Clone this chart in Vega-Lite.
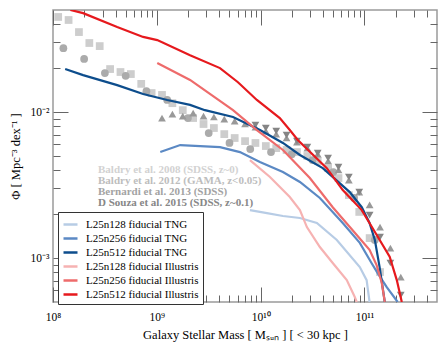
{
  "$schema": "https://vega.github.io/schema/vega-lite/v6.json",
  "width": 384,
  "height": 292,
  "autosize": {"type": "none"},
  "padding": {"left": 53, "top": 10, "right": 10, "bottom": 43},
  "config": {"view": {"stroke": "#9a9a9a", "strokeWidth": 1.5}, "font": "Liberation Serif"},
  "datasets": {
    "sims": [
      {"sim": "L25n128 fiducial TNG", "mass": 7.89e9, "phi": 0.00213},
      {"sim": "L25n128 fiducial TNG", "mass": 1.15e10, "phi": 0.00203},
      {"sim": "L25n128 fiducial TNG", "mass": 1.64e10, "phi": 0.00194},
      {"sim": "L25n128 fiducial TNG", "mass": 2.39e10, "phi": 0.00188},
      {"sim": "L25n128 fiducial TNG", "mass": 3.48e10, "phi": 0.00174},
      {"sim": "L25n128 fiducial TNG", "mass": 5.42e10, "phi": 0.00133},
      {"sim": "L25n128 fiducial TNG", "mass": 9.02e10, "phi": 0.000867},
      {"sim": "L25n128 fiducial TNG", "mass": 1.05e11, "phi": 0.000706},
      {"sim": "L25n128 fiducial TNG", "mass": 1.12e11, "phi": 0.0005},
      {"sim": "L25n256 fiducial TNG", "mass": 1.08e9, "phi": 0.00532},
      {"sim": "L25n256 fiducial TNG", "mass": 1.68e9, "phi": 0.00594},
      {"sim": "L25n256 fiducial TNG", "mass": 2.61e9, "phi": 0.00585},
      {"sim": "L25n256 fiducial TNG", "mass": 4.06e9, "phi": 0.00575},
      {"sim": "L25n256 fiducial TNG", "mass": 6.32e9, "phi": 0.00532},
      {"sim": "L25n256 fiducial TNG", "mass": 9.84e9, "phi": 0.00455},
      {"sim": "L25n256 fiducial TNG", "mass": 1.64e10, "phi": 0.00388},
      {"sim": "L25n256 fiducial TNG", "mass": 2.39e10, "phi": 0.00332},
      {"sim": "L25n256 fiducial TNG", "mass": 3.72e10, "phi": 0.00258},
      {"sim": "L25n256 fiducial TNG", "mass": 6.18e10, "phi": 0.00174},
      {"sim": "L25n256 fiducial TNG", "mass": 9.02e10, "phi": 0.00127},
      {"sim": "L25n256 fiducial TNG", "mass": 1.17e11, "phi": 0.000925},
      {"sim": "L25n256 fiducial TNG", "mass": 1.34e11, "phi": 0.000789},
      {"sim": "L25n256 fiducial TNG", "mass": 1.64e11, "phi": 0.000632},
      {"sim": "L25n256 fiducial TNG", "mass": 2.09e11, "phi": 0.0005},
      {"sim": "L25n512 fiducial TNG", "mass": 1.31e8, "phi": 0.0197},
      {"sim": "L25n512 fiducial TNG", "mass": 1.95e8, "phi": 0.0179},
      {"sim": "L25n512 fiducial TNG", "mass": 4.15e8, "phi": 0.0153},
      {"sim": "L25n512 fiducial TNG", "mass": 7.38e8, "phi": 0.0133},
      {"sim": "L25n512 fiducial TNG", "mass": 1.26e9, "phi": 0.0121},
      {"sim": "L25n512 fiducial TNG", "mass": 2.09e9, "phi": 0.0112},
      {"sim": "L25n512 fiducial TNG", "mass": 2.91e9, "phi": 0.0103},
      {"sim": "L25n512 fiducial TNG", "mass": 5.42e9, "phi": 0.00925},
      {"sim": "L25n512 fiducial TNG", "mass": 9.86e9, "phi": 0.00753},
      {"sim": "L25n512 fiducial TNG", "mass": 1.64e10, "phi": 0.00614},
      {"sim": "L25n512 fiducial TNG", "mass": 2.39e10, "phi": 0.00508},
      {"sim": "L25n512 fiducial TNG", "mass": 3.97e10, "phi": 0.00413},
      {"sim": "L25n512 fiducial TNG", "mass": 7.22e10, "phi": 0.00283},
      {"sim": "L25n512 fiducial TNG", "mass": 9.42e10, "phi": 0.00223},
      {"sim": "L25n512 fiducial TNG", "mass": 1.12e11, "phi": 0.00174},
      {"sim": "L25n512 fiducial TNG", "mass": 1.26e11, "phi": 0.00133},
      {"sim": "L25n512 fiducial TNG", "mass": 1.40e11, "phi": 0.000867},
      {"sim": "L25n512 fiducial TNG", "mass": 1.57e11, "phi": 0.0005},
      {"sim": "L25n128 fiducial Illustris", "mass": 7.89e9, "phi": 0.00469},
      {"sim": "L25n128 fiducial Illustris", "mass": 1.23e10, "phi": 0.00359},
      {"sim": "L25n128 fiducial Illustris", "mass": 1.91e10, "phi": 0.00262},
      {"sim": "L25n128 fiducial Illustris", "mass": 2.39e10, "phi": 0.00213},
      {"sim": "L25n128 fiducial Illustris", "mass": 2.79e10, "phi": 0.00163},
      {"sim": "L25n128 fiducial Illustris", "mass": 3.72e10, "phi": 0.00119},
      {"sim": "L25n128 fiducial Illustris", "mass": 4.95e10, "phi": 0.000925},
      {"sim": "L25n128 fiducial Illustris", "mass": 6.76e10, "phi": 0.000706},
      {"sim": "L25n128 fiducial Illustris", "mass": 8.07e10, "phi": 0.000541},
      {"sim": "L25n128 fiducial Illustris", "mass": 8.43e10, "phi": 0.0005},
      {"sim": "L25n256 fiducial Illustris", "mass": 1.01e9, "phi": 0.0217},
      {"sim": "L25n256 fiducial Illustris", "mass": 2.09e9, "phi": 0.0166},
      {"sim": "L25n256 fiducial Illustris", "mass": 5.42e9, "phi": 0.0103},
      {"sim": "L25n256 fiducial Illustris", "mass": 9.20e9, "phi": 0.00753},
      {"sim": "L25n256 fiducial Illustris", "mass": 1.64e10, "phi": 0.0055},
      {"sim": "L25n256 fiducial Illustris", "mass": 2.98e10, "phi": 0.00353},
      {"sim": "L25n256 fiducial Illustris", "mass": 4.95e10, "phi": 0.00223},
      {"sim": "L25n256 fiducial Illustris", "mass": 8.43e10, "phi": 0.00144},
      {"sim": "L25n256 fiducial Illustris", "mass": 1.12e11, "phi": 0.00114},
      {"sim": "L25n256 fiducial Illustris", "mass": 1.31e11, "phi": 0.000895},
      {"sim": "L25n256 fiducial Illustris", "mass": 1.47e11, "phi": 0.000675},
      {"sim": "L25n256 fiducial Illustris", "mass": 1.57e11, "phi": 0.0005},
      {"sim": "L25n512 fiducial Illustris", "mass": 1.47e8, "phi": 0.05},
      {"sim": "L25n512 fiducial Illustris", "mass": 1.95e8, "phi": 0.0476},
      {"sim": "L25n512 fiducial Illustris", "mass": 4.15e8, "phi": 0.0382},
      {"sim": "L25n512 fiducial Illustris", "mass": 7.38e8, "phi": 0.0327},
      {"sim": "L25n512 fiducial Illustris", "mass": 1.01e9, "phi": 0.0311},
      {"sim": "L25n512 fiducial Illustris", "mass": 2.09e9, "phi": 0.0245},
      {"sim": "L25n512 fiducial Illustris", "mass": 4.06e9, "phi": 0.0200},
      {"sim": "L25n512 fiducial Illustris", "mass": 6.05e9, "phi": 0.0160},
      {"sim": "L25n512 fiducial Illustris", "mass": 9.20e9, "phi": 0.0121},
      {"sim": "L25n512 fiducial Illustris", "mass": 1.53e10, "phi": 0.0091},
      {"sim": "L25n512 fiducial Illustris", "mass": 1.91e10, "phi": 0.00753},
      {"sim": "L25n512 fiducial Illustris", "mass": 2.28e10, "phi": 0.00643},
      {"sim": "L25n512 fiducial Illustris", "mass": 4.34e10, "phi": 0.00413},
      {"sim": "L25n512 fiducial Illustris", "mass": 6.18e10, "phi": 0.00292},
      {"sim": "L25n512 fiducial Illustris", "mass": 9.42e10, "phi": 0.00213},
      {"sim": "L25n512 fiducial Illustris", "mass": 1.20e11, "phi": 0.0016},
      {"sim": "L25n512 fiducial Illustris", "mass": 1.75e11, "phi": 0.00102},
      {"sim": "L25n512 fiducial Illustris", "mass": 2.05e11, "phi": 0.000706},
      {"sim": "L25n512 fiducial Illustris", "mass": 2.29e11, "phi": 0.0005}
    ],
    "obs": [
      {"survey": "Baldry et al. 2008 (SDSS, z~0)", "mass": 1.122e8, "phi": 0.0448},
      {"survey": "Baldry et al. 2008 (SDSS, z~0)", "mass": 1.413e8, "phi": 0.0427},
      {"survey": "Baldry et al. 2008 (SDSS, z~0)", "mass": 1.778e8, "phi": 0.0353},
      {"survey": "Baldry et al. 2008 (SDSS, z~0)", "mass": 2.239e8, "phi": 0.0297},
      {"survey": "Baldry et al. 2008 (SDSS, z~0)", "mass": 2.818e8, "phi": 0.0283},
      {"survey": "Baldry et al. 2008 (SDSS, z~0)", "mass": 3.548e8, "phi": 0.0197},
      {"survey": "Baldry et al. 2008 (SDSS, z~0)", "mass": 4.467e8, "phi": 0.0188},
      {"survey": "Baldry et al. 2008 (SDSS, z~0)", "mass": 5.623e8, "phi": 0.0182},
      {"survey": "Baldry et al. 2008 (SDSS, z~0)", "mass": 7.079e8, "phi": 0.0156},
      {"survey": "Baldry et al. 2008 (SDSS, z~0)", "mass": 8.913e8, "phi": 0.0135},
      {"survey": "Baldry et al. 2008 (SDSS, z~0)", "mass": 1.122e9, "phi": 0.0131},
      {"survey": "Baldry et al. 2008 (SDSS, z~0)", "mass": 1.413e9, "phi": 0.0115},
      {"survey": "Baldry et al. 2008 (SDSS, z~0)", "mass": 1.778e9, "phi": 0.0103},
      {"survey": "Baldry et al. 2008 (SDSS, z~0)", "mass": 2.239e9, "phi": 0.0091},
      {"survey": "Baldry et al. 2008 (SDSS, z~0)", "mass": 2.818e9, "phi": 0.00828},
      {"survey": "Baldry et al. 2008 (SDSS, z~0)", "mass": 3.548e9, "phi": 0.00777},
      {"survey": "Baldry et al. 2008 (SDSS, z~0)", "mass": 4.467e9, "phi": 0.00706},
      {"survey": "Baldry et al. 2008 (SDSS, z~0)", "mass": 5.623e9, "phi": 0.00664},
      {"survey": "Baldry et al. 2008 (SDSS, z~0)", "mass": 7.079e9, "phi": 0.00632},
      {"survey": "Baldry et al. 2008 (SDSS, z~0)", "mass": 8.913e9, "phi": 0.00614},
      {"survey": "Baldry et al. 2008 (SDSS, z~0)", "mass": 1.122e10, "phi": 0.00585},
      {"survey": "Baldry et al. 2008 (SDSS, z~0)", "mass": 1.413e10, "phi": 0.00566},
      {"survey": "Baldry et al. 2008 (SDSS, z~0)", "mass": 1.778e10, "phi": 0.0055},
      {"survey": "Baldry et al. 2008 (SDSS, z~0)", "mass": 2.239e10, "phi": 0.00532},
      {"survey": "Baldry et al. 2008 (SDSS, z~0)", "mass": 2.818e10, "phi": 0.005},
      {"survey": "Baldry et al. 2008 (SDSS, z~0)", "mass": 3.548e10, "phi": 0.00462},
      {"survey": "Baldry et al. 2008 (SDSS, z~0)", "mass": 4.467e10, "phi": 0.00413},
      {"survey": "Baldry et al. 2008 (SDSS, z~0)", "mass": 5.623e10, "phi": 0.00353},
      {"survey": "Baldry et al. 2008 (SDSS, z~0)", "mass": 7.079e10, "phi": 0.0027},
      {"survey": "Baldry et al. 2008 (SDSS, z~0)", "mass": 8.913e10, "phi": 0.00207},
      {"survey": "Baldry et al. 2008 (SDSS, z~0)", "mass": 1.122e11, "phi": 0.00137},
      {"survey": "Baldry et al. 2008 (SDSS, z~0)", "mass": 1.413e11, "phi": 0.000802},
      {"survey": "Baldry et al. 2012 (GAMA, z<0.05)", "mass": 1.259e8, "phi": 0.0274},
      {"survey": "Baldry et al. 2012 (GAMA, z<0.05)", "mass": 1.995e8, "phi": 0.0231},
      {"survey": "Baldry et al. 2012 (GAMA, z<0.05)", "mass": 3.162e8, "phi": 0.0185},
      {"survey": "Baldry et al. 2012 (GAMA, z<0.05)", "mass": 5.012e8, "phi": 0.0177},
      {"survey": "Baldry et al. 2012 (GAMA, z<0.05)", "mass": 7.943e8, "phi": 0.0139},
      {"survey": "Baldry et al. 2012 (GAMA, z<0.05)", "mass": 1.259e9, "phi": 0.0121},
      {"survey": "Baldry et al. 2012 (GAMA, z<0.05)", "mass": 1.995e9, "phi": 0.0091},
      {"survey": "Baldry et al. 2012 (GAMA, z<0.05)", "mass": 3.162e9, "phi": 0.00718},
      {"survey": "Baldry et al. 2012 (GAMA, z<0.05)", "mass": 5.012e9, "phi": 0.00614},
      {"survey": "Baldry et al. 2012 (GAMA, z<0.05)", "mass": 7.943e9, "phi": 0.00558},
      {"survey": "Baldry et al. 2012 (GAMA, z<0.05)", "mass": 1.259e10, "phi": 0.00532},
      {"survey": "Baldry et al. 2012 (GAMA, z<0.05)", "mass": 1.995e10, "phi": 0.00515},
      {"survey": "Baldry et al. 2012 (GAMA, z<0.05)", "mass": 3.162e10, "phi": 0.00469},
      {"survey": "Baldry et al. 2012 (GAMA, z<0.05)", "mass": 5.012e10, "phi": 0.00388},
      {"survey": "Baldry et al. 2012 (GAMA, z<0.05)", "mass": 7.943e10, "phi": 0.00258},
      {"survey": "Baldry et al. 2012 (GAMA, z<0.05)", "mass": 1.259e11, "phi": 0.00133},
      {"survey": "Bernardi et al. 2013 (SDSS)", "mass": 1.122e9, "phi": 0.0091},
      {"survey": "Bernardi et al. 2013 (SDSS)", "mass": 1.413e9, "phi": 0.00969},
      {"survey": "Bernardi et al. 2013 (SDSS)", "mass": 1.778e9, "phi": 0.00939},
      {"survey": "Bernardi et al. 2013 (SDSS)", "mass": 2.239e9, "phi": 0.00984},
      {"survey": "Bernardi et al. 2013 (SDSS)", "mass": 2.818e9, "phi": 0.00939},
      {"survey": "Bernardi et al. 2013 (SDSS)", "mass": 3.548e9, "phi": 0.00925},
      {"survey": "Bernardi et al. 2013 (SDSS)", "mass": 4.467e9, "phi": 0.00895},
      {"survey": "Bernardi et al. 2013 (SDSS)", "mass": 5.623e9, "phi": 0.00867},
      {"survey": "Bernardi et al. 2013 (SDSS)", "mass": 7.079e9, "phi": 0.00828},
      {"survey": "Bernardi et al. 2013 (SDSS)", "mass": 8.913e9, "phi": 0.00789},
      {"survey": "Bernardi et al. 2013 (SDSS)", "mass": 1.122e10, "phi": 0.00741},
      {"survey": "Bernardi et al. 2013 (SDSS)", "mass": 1.413e10, "phi": 0.00706},
      {"survey": "Bernardi et al. 2013 (SDSS)", "mass": 1.778e10, "phi": 0.00664},
      {"survey": "Bernardi et al. 2013 (SDSS)", "mass": 2.239e10, "phi": 0.00623},
      {"survey": "Bernardi et al. 2013 (SDSS)", "mass": 2.818e10, "phi": 0.00566},
      {"survey": "Bernardi et al. 2013 (SDSS)", "mass": 3.548e10, "phi": 0.00515},
      {"survey": "Bernardi et al. 2013 (SDSS)", "mass": 4.467e10, "phi": 0.00462},
      {"survey": "Bernardi et al. 2013 (SDSS)", "mass": 5.623e10, "phi": 0.00401},
      {"survey": "Bernardi et al. 2013 (SDSS)", "mass": 7.079e10, "phi": 0.00342},
      {"survey": "Bernardi et al. 2013 (SDSS)", "mass": 8.913e10, "phi": 0.00283},
      {"survey": "Bernardi et al. 2013 (SDSS)", "mass": 1.122e11, "phi": 0.00231},
      {"survey": "Bernardi et al. 2013 (SDSS)", "mass": 1.413e11, "phi": 0.00163},
      {"survey": "Bernardi et al. 2013 (SDSS)", "mass": 1.778e11, "phi": 0.00117},
      {"survey": "Bernardi et al. 2013 (SDSS)", "mass": 2.239e11, "phi": 0.000741},
      {"survey": "D Souza et al. 2015 (SDSS, z~0.1)", "mass": 8.913e9, "phi": 0.00815},
      {"survey": "D Souza et al. 2015 (SDSS, z~0.1)", "mass": 1.122e10, "phi": 0.00777},
      {"survey": "D Souza et al. 2015 (SDSS, z~0.1)", "mass": 1.413e10, "phi": 0.00741},
      {"survey": "D Souza et al. 2015 (SDSS, z~0.1)", "mass": 1.778e10, "phi": 0.00695},
      {"survey": "D Souza et al. 2015 (SDSS, z~0.1)", "mass": 2.239e10, "phi": 0.00632},
      {"survey": "D Souza et al. 2015 (SDSS, z~0.1)", "mass": 2.818e10, "phi": 0.00575},
      {"survey": "D Souza et al. 2015 (SDSS, z~0.1)", "mass": 3.548e10, "phi": 0.00524},
      {"survey": "D Souza et al. 2015 (SDSS, z~0.1)", "mass": 4.467e10, "phi": 0.00484},
      {"survey": "D Souza et al. 2015 (SDSS, z~0.1)", "mass": 5.623e10, "phi": 0.0042},
      {"survey": "D Souza et al. 2015 (SDSS, z~0.1)", "mass": 7.079e10, "phi": 0.00359},
      {"survey": "D Souza et al. 2015 (SDSS, z~0.1)", "mass": 8.913e10, "phi": 0.00283},
      {"survey": "D Souza et al. 2015 (SDSS, z~0.1)", "mass": 1.122e11, "phi": 0.00197},
      {"survey": "D Souza et al. 2015 (SDSS, z~0.1)", "mass": 1.413e11, "phi": 0.00139},
      {"survey": "D Souza et al. 2015 (SDSS, z~0.1)", "mass": 1.778e11, "phi": 0.000925},
      {"survey": "D Souza et al. 2015 (SDSS, z~0.1)", "mass": 2.239e11, "phi": 0.000558}
    ]
  },
  "layer": [
    {
      "data": {"name": "obs"},
      "mark": {"type": "point", "filled": true, "opacity": 1, "strokeWidth": 0, "size": 60, "clip": true},
      "encoding": {
        "x": {"field": "mass", "type": "quantitative", "scale": {"type": "log", "domain": [1e8, 5e11]},
          "axis": {"orient": "top", "values": [1e8,2e8,3e8,4e8,5e8,6e8,7e8,8e8,9e8,1e9,2e9,3e9,4e9,5e9,6e9,7e9,8e9,9e9,1e10,2e10,3e10,4e10,5e10,6e10,7e10,8e10,9e10,1e11,2e11,3e11,4e11],
            "tickSize": {"expr": "abs(log(datum.value)/LN10 - round(log(datum.value)/LN10)) < 0.001 ? -15 : -7"},
            "labels": false, "domain": false, "grid": false, "title": null, "tickColor": "#666", "tickWidth": 1}},
        "y": {"field": "phi", "type": "quantitative", "scale": {"type": "log", "domain": [5e-4, 5e-2]},
          "axis": {"orient": "right", "values": [6e-4,7e-4,8e-4,9e-4,1e-3,2e-3,3e-3,4e-3,5e-3,6e-3,7e-3,8e-3,9e-3,1e-2,2e-2,3e-2,4e-2],
            "tickSize": {"expr": "abs(log(datum.value)/LN10 - round(log(datum.value)/LN10)) < 0.001 ? -15 : -7"},
            "labels": false, "domain": false, "grid": false, "title": null, "tickColor": "#666", "tickWidth": 1}},
        "shape": {"field": "survey", "type": "nominal",
          "scale": {"domain": ["Baldry et al. 2008 (SDSS, z~0)", "Baldry et al. 2012 (GAMA, z<0.05)", "Bernardi et al. 2013 (SDSS)", "D Souza et al. 2015 (SDSS, z~0.1)"],
            "range": ["square", "circle", "triangle-up", "triangle-down"]},
          "legend": {"orient": "none", "legendX": 34, "legendY": 154, "title": null, "symbolSize": 0, "symbolOpacity": 0, "symbolStrokeWidth": 0,
            "labelOffset": 0, "padding": 0, "rowPadding": -1.6, "labelFont": "Liberation Serif", "labelFontSize": 11, "labelFontWeight": "bold", "labelLimit": 0,
            "labelColor": {"expr": "datum.label == 'Baldry et al. 2008 (SDSS, z~0)' ? '#d2d2d2' : datum.label == 'Baldry et al. 2012 (GAMA, z<0.05)' ? '#bdbdbd' : datum.label == 'Bernardi et al. 2013 (SDSS)' ? '#a3a3a3' : '#878787'"}}},
        "fill": {"field": "survey", "type": "nominal",
          "scale": {"domain": ["Baldry et al. 2008 (SDSS, z~0)", "Baldry et al. 2012 (GAMA, z<0.05)", "Bernardi et al. 2013 (SDSS)", "D Souza et al. 2015 (SDSS, z~0.1)"],
            "range": ["#cdcdcd", "#ababab", "#999999", "#858585"]},
          "legend": null}
      }
    },
    {
      "data": {"name": "sims"},
      "mark": {"type": "line", "strokeWidth": 2.2, "clip": true},
      "encoding": {
        "x": {"field": "mass", "type": "quantitative", "scale": {"type": "log", "domain": [1e8, 5e11]},
          "axis": {"orient": "bottom", "values": [1e8,2e8,3e8,4e8,5e8,6e8,7e8,8e8,9e8,1e9,2e9,3e9,4e9,5e9,6e9,7e9,8e9,9e9,1e10,2e10,3e10,4e10,5e10,6e10,7e10,8e10,9e10,1e11,2e11,3e11,4e11],
            "tickSize": {"expr": "abs(log(datum.value)/LN10 - round(log(datum.value)/LN10)) < 0.001 ? -15 : -7"},
            "labelExpr": "datum.value == 1e8 ? '10⁸' : datum.value == 1e9 ? '10⁹' : datum.value == 1e10 ? '10¹⁰' : datum.value == 1e11 ? '10¹¹' : ''",
            "labelPadding": 33, "labelBaseline": "alphabetic", "labelFont": "Liberation Serif", "labelFontSize": 11.5, "labelColor": "#000",
            "labelFlush": false, "labelOverlap": false, "labelBound": false,
            "domain": false, "grid": false, "tickColor": "#666", "tickWidth": 1,
            "title": "Galaxy Stellar Mass [ Mₛᵤₙ ] [ < 30 kpc ]", "titleFont": "Liberation Serif", "titleFontSize": 12.5, "titleFontWeight": "normal", "titleColor": "#000",
            "titleX": 192, "titleY": 36, "titleBaseline": "alphabetic", "titleAlign": "center", "titleAnchor": null}},
        "y": {"field": "phi", "type": "quantitative", "scale": {"type": "log", "domain": [5e-4, 5e-2]},
          "axis": {"orient": "left", "values": [6e-4,7e-4,8e-4,9e-4,1e-3,2e-3,3e-3,4e-3,5e-3,6e-3,7e-3,8e-3,9e-3,1e-2,2e-2,3e-2,4e-2],
            "tickSize": {"expr": "abs(log(datum.value)/LN10 - round(log(datum.value)/LN10)) < 0.001 ? -15 : -7"},
            "labelExpr": "datum.value == 0.001 ? '10⁻³' : datum.value == 0.01 ? '10⁻²' : ''",
            "labelPadding": 19, "labelFont": "Liberation Serif", "labelFontSize": 11.5, "labelColor": "#000",
            "labelFlush": false, "labelOverlap": false, "labelBound": false,
            "domain": false, "grid": false, "tickColor": "#666", "tickWidth": 1,
            "title": "Φ [ Mpc⁻³ dex⁻¹ ]", "titleFont": "Liberation Serif", "titleFontSize": 12.5, "titleFontWeight": "normal", "titleColor": "#000",
            "titleX": -38, "titleY": 146, "titleAngle": 270, "titleBaseline": "middle", "titleAlign": "center", "titleAnchor": null}},
        "color": {"field": "sim", "type": "nominal",
          "scale": {"domain": ["L25n128 fiducial TNG", "L25n256 fiducial TNG", "L25n512 fiducial TNG", "L25n128 fiducial Illustris", "L25n256 fiducial Illustris", "L25n512 fiducial Illustris"],
            "range": ["#b7cce5", "#5b89c4", "#0d4d8c", "#f6b2b2", "#ee6b6b", "#e6191d"]},
          "legend": {"orient": "none", "legendX": 5, "legendY": 202, "title": null, "symbolType": "stroke", "symbolSize": 196, "symbolStrokeWidth": 2.5,
            "labelFont": "Liberation Serif", "labelFontSize": 11, "labelColor": "#000", "labelOffset": 7, "rowPadding": -2.2, "padding": 4, "labelLimit": 0,
            "strokeColor": "#333", "fillColor": "#ffffff"}}
      }
    }
  ],
  "resolve": {"axis": {"x": "independent", "y": "independent"}}
}
